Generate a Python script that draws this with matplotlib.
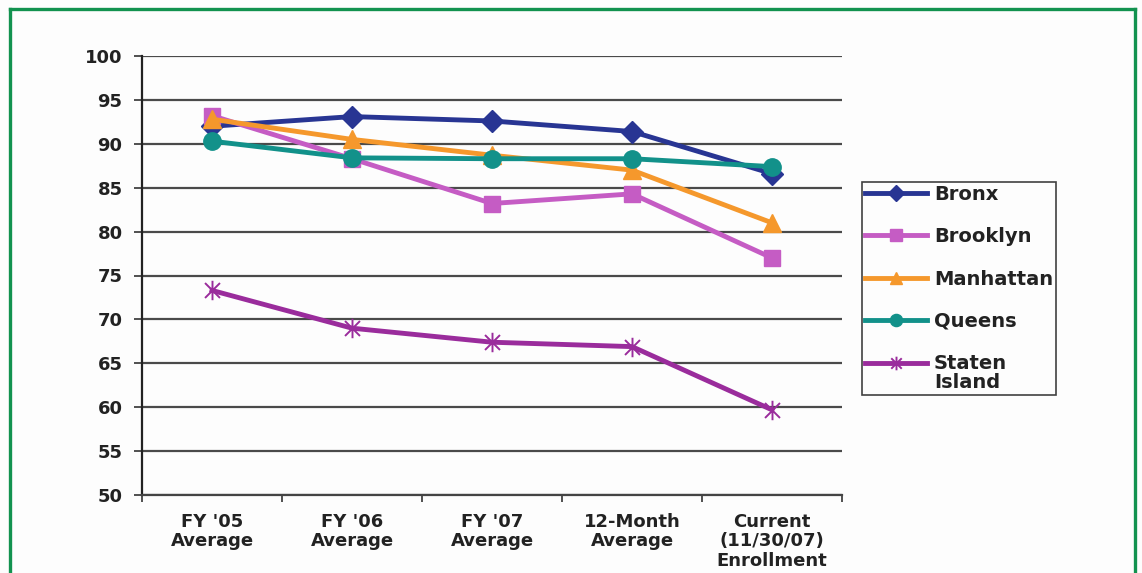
import numpy as np
import matplotlib
matplotlib.use('Agg')
import matplotlib.pyplot as plt
from matplotlib.path import Path
from matplotlib.lines import Line2D

plt.rcParams['font.family'] = ['DejaVu Sans']
plt.rcParams['font.weight'] = 'bold'

# data
categories = ["FY '05\nAverage", "FY '06\nAverage", "FY '07\nAverage",
              "12-Month\nAverage", "Current\n(11/30/07)\nEnrollment"]
bronx = [92.0, 93.1, 92.6, 91.4, 86.6]
brooklyn = [93.2, 88.3, 83.2, 84.3, 77.0]
manhattan = [92.8, 90.5, 88.7, 87.0, 81.0]
queens = [90.3, 88.4, 88.3, 88.3, 87.4]
staten_island = [73.3, 69.0, 67.4, 66.9, 59.7]
y_ticks = [50, 55, 60, 65, 70, 75, 80, 85, 90, 95, 100]

# Excel style star: X with a vertical bar through it
star = Path([(-1, -1), (1, 1), (-1, 1), (1, -1), (0, -1.3), (0, 1.3)],
            [Path.MOVETO, Path.LINETO, Path.MOVETO, Path.LINETO,
             Path.MOVETO, Path.LINETO])

series = [
    ('Bronx', bronx, '#283593', 'D', 11.5),
    ('Brooklyn', brooklyn, '#c55cc4', 's', 11.5),
    ('Manhattan', manhattan, '#f5982c', '^', 12.5),
    ('Queens', queens, '#12918a', 'o', 12.5),
    ('Staten\nIsland', staten_island, '#9a2c9c', star, 14),
]

fig = plt.figure(figsize=(11.42, 5.73), dpi=100)
fig.patch.set_facecolor('#fdfdfd')
ax = fig.add_axes([142/1142, 1-495/573, 700/1142, 439/573])
ax.set_facecolor('#fdfdfd')

x = np.arange(len(categories))
for label, vals, color, marker, ms in series:
    if marker is star:
        ax.plot(x, vals, color=color, lw=3.5, marker=marker, ms=ms,
                mfc='none', mec=color, mew=1.4, label=label, zorder=3)
    else:
        ax.plot(x, vals, color=color, lw=3.5, marker=marker, ms=ms,
                mec=color, label=label, zorder=3)

ax.set_xlim(-0.5, len(categories) - 0.5)
ax.set_ylim(50, 100)
ax.set_yticks(y_ticks)
ax.set_yticklabels([str(v) for v in y_ticks], fontsize=13, color='#222222')
ax.yaxis.grid(True, color='#4a4a4a', lw=1.6)
ax.set_axisbelow(True)

# category boundaries get the tick marks, labels sit in the middle
ax.set_xticks(np.arange(-0.5, len(categories), 1.0))
ax.set_xticklabels([])
ax.set_xticks(x, minor=True)
ax.set_xticklabels(categories, minor=True, fontsize=13, color='#222222',
                   linespacing=1.1, va='top')
ax.tick_params(axis='x', which='minor', length=0, pad=13)
ax.tick_params(axis='x', which='major', length=5, width=1.2, color='#333333')
ax.tick_params(axis='y', length=6, width=1.2, color='#333333', pad=8)

for side in ['top', 'right']:
    ax.spines[side].set_visible(False)
ax.spines['left'].set_linewidth(1.6)
ax.spines['left'].set_color('#222222')
ax.spines['bottom'].set_linewidth(1.6)
ax.spines['bottom'].set_color('#444444')

leg = fig.legend(loc='upper left', bbox_to_anchor=(862/1142, 1-182/573),
                 borderaxespad=0, fontsize=14, frameon=True, fancybox=False,
                 edgecolor='#111111', handlelength=3.2, labelspacing=1.2,
                 borderpad=0.15, handletextpad=0.35, markerscale=0.7)
leg.get_frame().set_linewidth(1.2)
leg.get_frame().set_facecolor('#fdfdfd')
for t in leg.get_texts():
    t.set_color('#222222')
    t.set_linespacing(1.0)
# raise the Staten Island handle to its first text line
h = leg.legend_handles[-1]
h.set_ydata(np.asarray(h.get_ydata()) + 8)

# green frame around the panel, open at the bottom
gx0, gx1, gy = 10/1142, 1135/1142, 1 - 8.5/573
frame_kw = dict(color='#12924f', lw=2.4, transform=fig.transFigure)
fig.add_artist(Line2D([gx0, gx0], [0, gy], **frame_kw))
fig.add_artist(Line2D([gx1, gx1], [0, gy], **frame_kw))
fig.add_artist(Line2D([gx0, gx1], [gy, gy], **frame_kw))

fig.savefig('out.png', dpi=100, facecolor=fig.get_facecolor())
